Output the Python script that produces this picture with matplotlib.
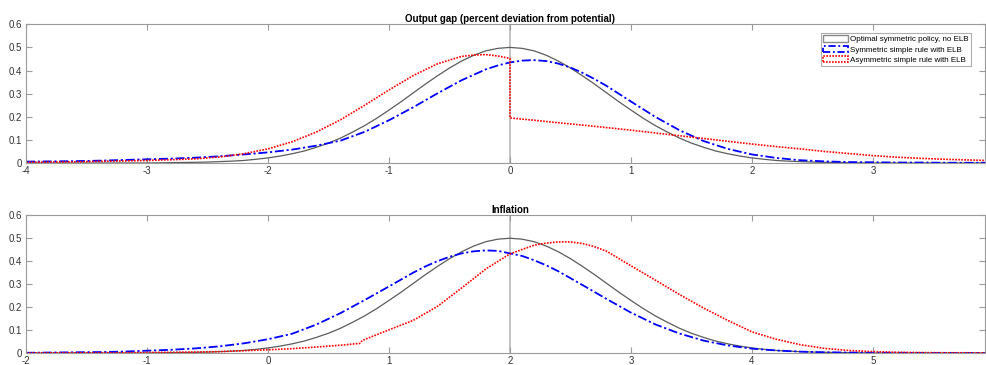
import numpy as np
import matplotlib
matplotlib.use("Agg")
import matplotlib.pyplot as plt
from matplotlib.patches import Patch
from matplotlib.ticker import FuncFormatter

plt.rcParams['font.family'] = ['Liberation Sans', 'DejaVu Sans']
plt.rcParams['axes.unicode_minus'] = False

# ---- data ----
labels = ['Optimal symmetric policy, no ELB',
          'Symmetric simple rule with ELB',
          'Asymmetric simple rule with ELB']

# optimal policy: same bell shape in both panels (offsets from its centre)
opt_dx = [-4.0, -3.0, -2.6, -2.5, -2.4, -2.3, -2.2, -2.1, -2.0, -1.9, -1.8, -1.7,
          -1.6, -1.5, -1.4, -1.3, -1.2, -1.1, -1.0, -0.9, -0.8, -0.7, -0.6, -0.5,
          -0.4, -0.3, -0.2, -0.1, 0.0, 0.1, 0.2, 0.3, 0.4, 0.5, 0.6, 0.7, 0.8,
          0.9, 1.0, 1.1, 1.2, 1.3, 1.4, 1.5, 1.6, 1.7, 1.8, 1.9, 2.0, 2.1, 2.2,
          2.3, 2.4, 2.5, 2.6, 3.0, 4.0]
opt_y = [0.000, 0.000, 0.003, 0.004, 0.006, 0.008, 0.011, 0.016, 0.022, 0.030,
         0.040, 0.052, 0.068, 0.086, 0.108, 0.134, 0.162, 0.194, 0.229, 0.265,
         0.303, 0.341, 0.377, 0.411, 0.441, 0.466, 0.485, 0.496, 0.500, 0.496,
         0.485, 0.466, 0.441, 0.411, 0.377, 0.341, 0.303, 0.265, 0.229, 0.194,
         0.162, 0.134, 0.108, 0.086, 0.068, 0.052, 0.040, 0.030, 0.022, 0.016,
         0.011, 0.008, 0.006, 0.004, 0.003, 0.000, 0.000]

# output gap panel
gap_center = 0
gap_sym_x = [-4.0, -3.8, -3.6, -3.4, -3.2, -3.0, -2.8, -2.6, -2.4, -2.2, -2.0,
             -1.8, -1.6, -1.4, -1.2, -1.0, -0.8, -0.6, -0.4, -0.2, -0.1, 0.0,
             0.1, 0.2, 0.3, 0.4, 0.5, 0.6, 0.7, 0.8, 1.0, 1.2, 1.4, 1.6, 1.8,
             2.0, 2.2, 2.4, 2.6, 2.8, 3.0, 3.2, 3.4, 3.6, 3.8, 4.0]
gap_sym = [0.006, 0.007, 0.008, 0.010, 0.013, 0.016, 0.019, 0.023, 0.029, 0.037,
           0.046, 0.058, 0.075, 0.097, 0.135, 0.185, 0.241, 0.301, 0.358, 0.405,
           0.422, 0.435, 0.443, 0.445, 0.441, 0.430, 0.413, 0.390, 0.363, 0.333,
           0.266, 0.200, 0.142, 0.095, 0.061, 0.037, 0.022, 0.012, 0.007, 0.004,
           0.003, 0.002, 0.002, 0.001, 0.001, 0.001]
gap_asym_x = [-4.0, -3.8, -3.6, -3.4, -3.2, -3.0, -2.8, -2.6, -2.4, -2.2, -2.0,
              -1.8, -1.6, -1.4, -1.2, -1.0, -0.8, -0.6, -0.4, -0.3, -0.2, -0.1,
              0.0, 0.0, 0.2, 0.4, 0.6, 0.8, 1.0, 1.2, 1.4, 1.6, 1.8, 2.0, 2.2,
              2.4, 2.6, 2.8, 3.0, 3.2, 3.4, 3.6, 3.8, 4.0]
gap_asym = [0.003, 0.004, 0.005, 0.007, 0.009, 0.011, 0.014, 0.018, 0.026, 0.040,
            0.061, 0.092, 0.134, 0.187, 0.250, 0.316, 0.378, 0.429, 0.461, 0.467,
            0.469, 0.463, 0.452,
            0.195, 0.185, 0.174, 0.164, 0.153, 0.142, 0.130, 0.118, 0.106, 0.094,
            0.082, 0.071, 0.061, 0.050, 0.041, 0.032, 0.025, 0.020, 0.016, 0.013,
            0.010]

# inflation panel
inf_center = 2
inf_sym_x = [-2.0, -1.8, -1.6, -1.4, -1.2, -1.0, -0.8, -0.6, -0.4, -0.2, 0.0,
             0.2, 0.4, 0.6, 0.8, 1.0, 1.2, 1.3, 1.4, 1.5, 1.6, 1.7, 1.8, 1.9,
             2.0, 2.1, 2.2, 2.3, 2.4, 2.6, 2.8, 3.0, 3.2, 3.4, 3.6, 3.8, 4.0,
             4.2, 4.4, 4.6, 4.8, 5.0, 5.2, 5.4, 6.0]
inf_sym = [0.001, 0.002, 0.003, 0.004, 0.006, 0.010, 0.014, 0.020, 0.029, 0.042,
           0.060, 0.084, 0.124, 0.174, 0.231, 0.290, 0.350, 0.377, 0.400, 0.419,
           0.434, 0.443, 0.447, 0.445, 0.434, 0.423, 0.404, 0.382, 0.356, 0.296,
           0.235, 0.176, 0.125, 0.085, 0.054, 0.033, 0.019, 0.011, 0.006, 0.003,
           0.002, 0.001, 0.001, 0.000, 0.000]
inf_asym_x = [-2.0, -1.6, -1.2, -1.0, -0.8, -0.6, -0.4, -0.2, 0.0, 0.2, 0.4, 0.6,
              0.76, 0.78, 0.8, 1.0, 1.2, 1.4, 1.6, 1.8, 2.0, 2.2, 2.3, 2.4, 2.5,
              2.6, 2.7, 2.8, 3.0, 3.2, 3.4, 3.6, 3.8, 4.0, 4.2, 4.4, 4.6, 4.8,
              5.0, 5.2, 5.4, 5.6, 5.8, 6.0]
inf_asym = [0.000, 0.001, 0.001, 0.002, 0.003, 0.004, 0.006, 0.010, 0.014, 0.019,
            0.026, 0.034, 0.042, 0.055, 0.059, 0.101, 0.142, 0.203, 0.283, 0.366,
            0.432, 0.470, 0.479, 0.484, 0.484, 0.477, 0.463, 0.443, 0.380, 0.318,
            0.255, 0.196, 0.142, 0.092, 0.060, 0.036, 0.020, 0.011, 0.006, 0.003,
            0.002, 0.001, 0.001, 0.000]

# ---- drawing ----
fig = plt.figure(figsize=(9.86, 3.65), dpi=100)
ax1 = fig.add_axes([26/986, 202/365, 959/986, 138.7/365])
ax2 = fig.add_axes([26/986, 12/365, 959/986, 137.7/365])

c_opt = '#5c5c5c'
c_sym = '#0000ff'
c_asym = '#ff0000'
spine_c = '#9a9a9a'
dashdot = (0, (5, 1.5, 1.2, 1.5))
dots = (0, (1, 0.8))

def style(ax, xlim, xticks, center):
    ax.axvline(center, color='#c4c4c4', lw=1.4, zorder=0)
    ax.set_xlim(*xlim)
    ax.set_ylim(0, 0.6)
    ax.set_xticks(xticks)
    ax.set_yticks(np.arange(0, 0.61, 0.1))
    ax.yaxis.set_major_formatter(FuncFormatter(lambda v, p: f'{v:g}'))
    ax.tick_params(direction='in', top=True, right=True, length=4,
                   width=0.8, color=spine_c, labelsize=7, labelcolor='#333333')
    ax.tick_params(axis='x', pad=2.5)
    ax.tick_params(axis='y', pad=3)
    for s in ax.spines.values():
        s.set_color(spine_c)
        s.set_linewidth(0.8)

style(ax1, (-4, 3.926), range(-4, 4), gap_center)
ax1.plot(np.add(opt_dx, gap_center), opt_y, color=c_opt, lw=0.9)
ax1.plot(gap_sym_x, gap_sym, color=c_sym, lw=1.3, ls=dashdot)
ax1.plot(gap_asym_x, gap_asym, color=c_asym, lw=1.2, ls=dots)
ax1.set_title('Output gap (percent deviation from potential)', fontsize=7,
              fontweight='bold', pad=2, x=0.505)

style(ax2, (-2, 5.926), range(-2, 6), inf_center)
ax2.plot(np.add(opt_dx, inf_center), opt_y, color=c_opt, lw=0.9)
ax2.plot(inf_sym_x, inf_sym, color=c_sym, lw=1.3, ls=dashdot)
ax2.plot(inf_asym_x, inf_asym, color=c_asym, lw=1.2, ls=dots)
ax2.set_title('Inflation', fontsize=7, fontweight='bold', pad=2, x=0.505)

handles = [Patch(facecolor='none', edgecolor='#8a8a8a', lw=1.0, ls='-'),
           Patch(facecolor='none', edgecolor=c_sym, lw=1.3, ls=(0, (4, 1.5, 1, 1.5))),
           Patch(facecolor='none', edgecolor=c_asym, lw=1.2, ls=dots)]
leg = ax1.legend(handles, labels, loc='upper right',
                 bbox_to_anchor=(971/986, 1 - 32.7/365),
                 bbox_transform=fig.transFigure, borderaxespad=0,
                 fontsize=5.8, frameon=True, fancybox=False,
                 handlelength=3.1, handleheight=0.85, handletextpad=0.25,
                 borderpad=0.3, labelspacing=0.3)
leg.get_frame().set_edgecolor('#9a9a9a')
leg.get_frame().set_linewidth(0.8)

fig.savefig('out.png', dpi=100)
